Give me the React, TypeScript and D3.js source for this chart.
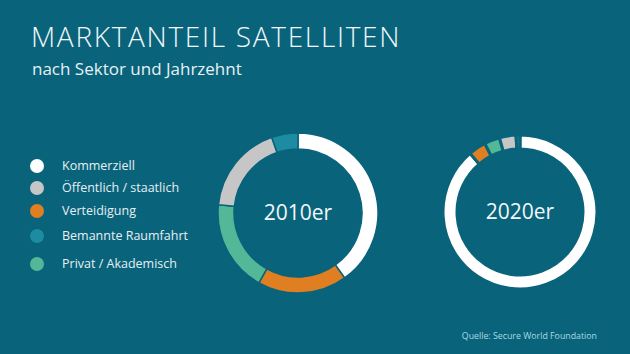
import * as d3 from 'd3';

const W = 630;
const H = 354;
const BG = '#09637b';

const sectors = ['Kommerziell', 'Öffentlich / staatlich', 'Verteidigung', 'Bemannte Raumfahrt', 'Privat / Akademisch'];
const sectorColors = ['#ffffff', '#c6c6c6', '#e07f22', '#1d8ba2', '#52b898'];

// order as drawn clockwise from 12 o'clock
const ringOrder = ['Kommerziell', 'Verteidigung', 'Privat / Akademisch', 'Öffentlich / staatlich', 'Bemannte Raumfahrt'];
const values2010 = [40, 18, 18.5, 18, 5.3];
const values2020 = [87, 3.6, 3.2, 3.4, 0.8];

const color = d3.scaleOrdinal<string, string>().domain(sectors).range(sectorColors);

type Slice = { key: string; value: number };

const Donut = ({ cx, cy, r, thick, values, label, gap }: {
  cx: number; cy: number; r: number; thick: number; values: number[]; label: string; gap: number;
}) => {
  const data: Slice[] = ringOrder.map((k, i) => ({ key: k, value: values[i] }));
  const pie = d3.pie<Slice>().value(d => d.value).sort(null);
  const arc = d3.arc<d3.PieArcDatum<Slice>>().innerRadius(r - thick).outerRadius(r);
  return (
    <g transform={`translate(${cx},${cy})`}>
      {pie(data).map(d => (
        <path key={d.data.key} d={arc(d) || ''} fill={color(d.data.key)} stroke={BG} strokeWidth={gap} />
      ))}
      <text textAnchor="middle" dy="0.35em" fontSize={21} fill="#f2f7f9" fontFamily="'Open Sans', sans-serif">
        {label}
      </text>
    </g>
  );
};

const legendY = [166, 188, 211, 236, 264];

export default function App() {
  return (
    <svg width={W} height={H} style={{ position: 'absolute', left: 0, top: 0 }}>
      <rect width={W} height={H} fill={BG} />
      <text x={31} y={47} fontSize={28} fontWeight={300} fill="#f2f7f9" fontFamily="'Open Sans', sans-serif" letterSpacing={1.7}>
        MARKTANTEIL SATELLITEN
      </text>
      <text x={32} y={75} fontSize={17} fill="#e8f1f4" fontFamily="'Open Sans', sans-serif">
        nach Sektor und Jahrzehnt
      </text>

      {sectors.map((s, i) => (
        <g key={s}>
          <circle cx={37} cy={legendY[i]} r={7} fill={color(s)} />
          <text x={62} y={legendY[i]} dy="0.35em" fontSize={12.5} fill="#e6f0f3" fontFamily="'Open Sans', sans-serif">
            {s}
          </text>
        </g>
      ))}

      <Donut cx={298} cy={213} r={80} thick={16} values={values2010} label="2010er" gap={1.5} />
      <Donut cx={520} cy={212} r={77} thick={14} values={values2020} label="2020er" gap={3} />

      <text x={597} y={336} dy="0.35em" textAnchor="end" fontSize={8.8} fill="#a8dbe6" fontFamily="'Open Sans', sans-serif">
        Quelle: Secure World Foundation
      </text>
    </svg>
  );
}
